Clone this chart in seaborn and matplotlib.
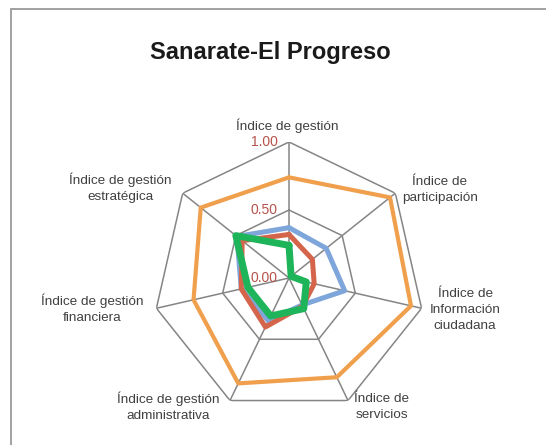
import numpy as np
import pandas as pd
import matplotlib
matplotlib.use('Agg')
import matplotlib.pyplot as plt
from matplotlib.patches import Rectangle
import seaborn as sns

# Datos
categorias = ['Índice de gestión',
              'Índice de\nparticipación',
              'Índice de\nInformación\nciudadana',
              'Índice de\nservicios',
              'Índice de gestión\nadministrativa',
              'Índice de gestión\nfinanciera',
              'Índice de gestión\nestratégica']
serie_azul    = [0.37, 0.35, 0.42, 0.22, 0.35, 0.36, 0.49]
serie_roja    = [0.32, 0.22, 0.19, 0.23, 0.40, 0.36, 0.44]
serie_naranja = [0.74, 0.95, 0.92, 0.81, 0.86, 0.72, 0.83]
serie_verde   = [0.24, 0.02, 0.13, 0.25, 0.31, 0.31, 0.50]
ticks         = [0.0, 0.5, 1.0]
titulo        = 'Sanarate-El Progreso'

sns.set_theme(style='white')
plt.rcParams['font.family'] = ['Liberation Sans', 'DejaVu Sans']

W, H = 546, 445
fig = plt.figure(figsize=(W / 100, H / 100), dpi=100)

def px(x, y):
    return x / W, 1 - y / H

# marco
fig.patches.append(Rectangle(px(11, 500), 1.2, (500 - 9) / H, transform=fig.transFigure,
                             fill=False, edgecolor='#9a9a9a', lw=1.3))

cx, cy, R = 289, 278, 136
ax = fig.add_axes([(cx - R) / W, (H - cy - R) / H, 2 * R / W, 2 * R / H], projection='polar')
ax.set_theta_zero_location('N')
ax.set_theta_direction(-1)
ax.set_axis_off()

n = len(categorias)
angulos = list(np.linspace(0, 2 * np.pi, n, endpoint=False))
cerrado = angulos + [2 * np.pi]

# rejilla heptagonal
for t in ticks[1:]:
    ax.plot(cerrado, [t] * (n + 1), color='#858585', lw=1.1, zorder=1)
for a in angulos:
    ax.plot([a, a], [0, 1], color='#858585', lw=1.1, zorder=1)

series = [('azul', serie_azul, '#7fa6da', 3.6),
          ('roja', serie_roja, '#d4644a', 3.6),
          ('naranja', serie_naranja, '#f0a04d', 3.0),
          ('verde', serie_verde, '#1db45a', 5.0)]
for nombre, vals, col, lw in series:
    df = pd.DataFrame({'angulo': cerrado, 'valor': vals + vals[:1]})
    sns.lineplot(data=df, x='angulo', y='valor', sort=False, estimator=None,
                 ax=ax, color=col, lw=lw, zorder=3)

ax.set_ylim(0, 1)

for t in ticks:
    ax.annotate(f'{t:.2f}', xy=(0, t), xytext=(-8, 0), textcoords='offset points',
                ha='right', va='center', color='#b5524a', fontsize=10, zorder=4)

pos_etiquetas = [(287, 126), (440, 190), (465, 310), (382, 407),
                 (168, 407), (92, 309), (120, 188)]
for lab, (x, y) in zip(categorias, pos_etiquetas):
    fig.text(*px(x, y), lab, ha='center', va='center', fontsize=9.7,
             color='#404040', linespacing=1.4)

fig.text(*px(270, 52), titulo, ha='center', va='center', fontsize=17,
         fontweight='bold', color='#1a1a1a')

fig.savefig('out.png', dpi=100)
